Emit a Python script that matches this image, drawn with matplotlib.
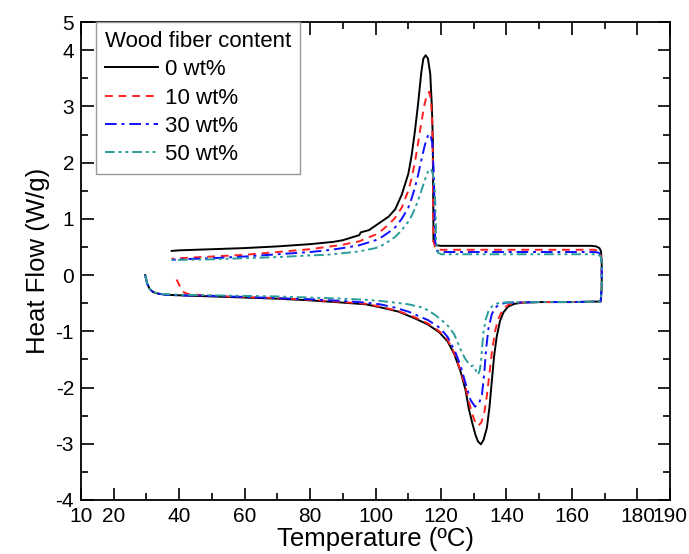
"""DSC heating/cooling curves for wood fiber composites."""
import matplotlib
matplotlib.use('Agg')
import matplotlib.pyplot as plt

plt.rcParams.update({
    'font.family': ['Liberation Sans', 'DejaVu Sans'],
    'font.size': 15,
})

# ---- data ----
# each trace: heating 30 -> 170 C (bottom), isothermal jump, cooling 170 -> 38 C (top)
t_0 = [29.6, 30.2, 31.0, 32.0, 33.5, 36, 40, 50, 60, 70, 80, 90, 97, 102, 107, 112, 116,
       119.5, 122, 124, 126, 127.5, 128.5, 129.5, 130.5, 131.3, 132.2, 133.0, 134.0, 134.8,
       135.5, 136.2, 137.0, 138.0, 139.1, 140.5, 142.5, 145, 150, 160, 168.8,
       169.1, 169.1, 168.9, 168.4, 167.4, 166, 150, 130, 120, 118.5, 117.7, 117.6, 117.5,
       117.2, 116.7, 116.0, 115.3, 114.6, 114.0, 113.0, 112.0, 111.0, 110.0, 108.0, 106.0,
       104.0, 102.0, 100.0, 98.0, 95.5, 95.0, 90, 87, 80, 70, 60, 50, 40, 37.7]
hf_0 = [0.0, -0.15, -0.25, -0.30, -0.33, -0.35, -0.36, -0.38, -0.40, -0.42, -0.45, -0.49,
        -0.52, -0.58, -0.65, -0.77, -0.88, -1.02, -1.18, -1.40, -1.72, -2.05, -2.38, -2.62,
        -2.84, -2.96, -3.01, -2.93, -2.72, -2.35, -1.90, -1.45, -1.10, -0.82, -0.66, -0.56,
        -0.51, -0.49, -0.48, -0.48, -0.47,
        -0.2, 0.2, 0.42, 0.48, 0.51, 0.52, 0.52, 0.52, 0.52, 0.53, 0.6, 1.5, 2.4,
        3.0, 3.58, 3.85, 3.91, 3.85, 3.62, 3.05, 2.55, 2.12, 1.80, 1.43, 1.17,
        1.04, 0.96, 0.88, 0.80, 0.76, 0.71, 0.62, 0.59, 0.55, 0.51, 0.48, 0.46, 0.44, 0.43]

t_10 = [39.2, 39.8, 40.5, 41.5, 43, 50, 60, 70, 80, 90, 97, 102, 107, 112, 116, 119.5, 122,
        124, 126, 127.5, 128.5, 129.5, 130.5, 131.4, 132.3, 133.2, 134.0, 134.8, 135.6,
        136.5, 137.5, 138.8, 140.5, 143, 150, 160, 168.8,
        169.1, 169.1, 168.8, 168.1, 166.8, 150, 125, 119.5, 118.3, 117.7, 117.6, 117.5, 117.3,
        116.9, 116.4, 115.8, 115.0, 114.0, 113.0, 112.0, 111.0, 110.0, 108.0, 106.0, 104.0,
        102.0, 100.0, 95, 90, 85, 80, 70, 60, 50, 40, 37.7]
hf_10 = [-0.08, -0.15, -0.24, -0.31, -0.34, -0.37, -0.39, -0.41, -0.44, -0.48, -0.51, -0.57,
         -0.64, -0.75, -0.86, -1.00, -1.15, -1.38, -1.70, -2.00, -2.25, -2.47, -2.62, -2.68,
         -2.62, -2.45, -2.15, -1.75, -1.35, -1.00, -0.78, -0.62, -0.53, -0.49, -0.48, -0.48,
         -0.47,
         -0.2, 0.2, 0.38, 0.43, 0.45, 0.45, 0.45, 0.45, 0.47, 0.6, 1.2, 2.0, 2.7,
         3.12, 3.26, 3.22, 3.05, 2.72, 2.35, 2.00, 1.72, 1.50, 1.20, 1.02, 0.90,
         0.80, 0.72, 0.60, 0.54, 0.50, 0.46, 0.41, 0.36, 0.33, 0.30, 0.29]

t_30 = [29.6, 30.2, 31.0, 32.0, 33.5, 36, 40, 50, 60, 70, 80, 90, 97, 101.4, 106, 110, 116,
        119.7, 122, 124.3, 126, 127.9, 129.0, 130.4, 131.5, 132.5, 133.2, 133.8, 134.5,
        135.5, 136.5, 138, 140, 150, 160, 168.8,
        169.1, 169.1, 168.8, 168.1, 166.8, 150, 125, 120, 118.8, 118.2, 118.1, 117.8, 117.3,
        116.7, 116.0, 115.0, 114.0, 113.0, 112.0, 111.0, 110.0, 108.0, 106.0, 104.0, 102.0,
        100.0, 95, 90, 85, 80, 70, 60, 50, 40, 37.7]
hf_30 = [0.0, -0.15, -0.25, -0.30, -0.33, -0.35, -0.36, -0.37, -0.39, -0.41, -0.43, -0.46,
         -0.49, -0.52, -0.58, -0.65, -0.80, -0.94, -1.10, -1.36, -1.62, -2.01, -2.22, -2.34,
         -2.30, -2.13, -1.75, -1.30, -0.95, -0.70, -0.58, -0.52, -0.49, -0.48, -0.48, -0.47,
         -0.2, 0.2, 0.36, 0.40, 0.41, 0.41, 0.41, 0.41, 0.43, 0.6, 1.0, 1.8, 2.35,
         2.51, 2.48, 2.30, 2.05, 1.78, 1.55, 1.36, 1.20, 1.00, 0.85, 0.76, 0.68,
         0.62, 0.53, 0.48, 0.44, 0.41, 0.37, 0.33, 0.30, 0.28, 0.27]

t_50 = [29.6, 30.2, 31.0, 32.0, 33.5, 36, 40, 50, 60, 70, 80, 90, 97, 101.4, 106, 110, 114.6,
        118, 121.8, 124, 125.8, 127.3, 128.4, 129.3, 129.9, 130.5, 131.3, 131.8, 132.2,
        132.6, 133.0, 133.7, 134.5, 135.5, 136.5, 138, 150, 160, 168.8,
        169.1, 169.1, 168.8, 168.1, 166.8, 150, 125, 120, 119.0, 118.5, 118.4, 118.1, 117.5,
        116.9, 116.0, 115.0, 114.0, 113.0, 112.0, 111.0, 110.0, 108.0, 106.0, 104.0, 102.0,
        100.0, 95, 90, 85, 80, 70, 60, 50, 40, 37.7]
hf_50 = [0.0, -0.15, -0.25, -0.30, -0.33, -0.34, -0.35, -0.36, -0.37, -0.38, -0.40, -0.42,
         -0.44, -0.46, -0.49, -0.52, -0.58, -0.70, -0.88, -1.05, -1.30, -1.48, -1.57, -1.62,
         -1.61, -1.68, -1.77, -1.70, -1.55, -1.25, -1.00, -0.78, -0.64, -0.56, -0.52, -0.49,
         -0.48, -0.48, -0.47,
         -0.2, 0.2, 0.33, 0.36, 0.37, 0.37, 0.37, 0.37, 0.40, 0.6, 1.0, 1.5, 1.80,
         1.89, 1.84, 1.68, 1.50, 1.33, 1.18, 1.05, 0.95, 0.80, 0.68, 0.60, 0.53,
         0.48, 0.42, 0.39, 0.36, 0.35, 0.32, 0.30, 0.28, 0.27, 0.27]

labels = ['0 wt%', '10 wt%', '30 wt%', '50 wt%']
xtick_vals = [10, 20, 40, 60, 80, 100, 120, 140, 160, 180, 190]
xtick_labels = ['10', '20', '40', '60', '80', '100', '120', '140', '160', '180', '190']
ytick_vals = [-4, -3, -2, -1, 0, 1, 2, 3, 4, 4.5]
ytick_labels = ['-4', '-3', '-2', '-1', '0', '1', '2', '3', '4', '5']

fig = plt.figure(figsize=(6.89, 5.54), dpi=100)
ax = fig.add_axes([0.1176, 0.0975, 0.855, 0.8627])

ax.plot(t_0, hf_0, color='black', lw=1.4, ls='-', label=labels[0])
ax.plot(t_10, hf_10, color='#FF2020', lw=1.4, ls=(0, (4, 3)), label=labels[1])
ax.plot(t_30, hf_30, color='#1010FF', lw=1.4, ls=(0, (6, 2.5, 1.5, 2.5)), label=labels[2])
ax.plot(t_50, hf_50, color='#2A9D9A', lw=1.4, ls=(0, (5, 2, 1.5, 2, 1.5, 2)), label=labels[3])

ax.set_xlim(10, 190)
ax.set_ylim(-4, 4.5)
ax.set_xticks(xtick_vals)
ax.set_xticklabels(xtick_labels)
ax.set_xticks(range(30, 180, 20), minor=True)
ax.set_yticks(ytick_vals)
ax.set_yticklabels(ytick_labels)
ax.set_yticks([-3.5, -2.5, -1.5, -0.5, 0.5, 1.5, 2.5, 3.5], minor=True)
ax.tick_params(which='both', direction='in', top=True, right=True, labelsize=15, width=1.2)
ax.tick_params(which='major', length=9, pad=5)
ax.tick_params(which='minor', length=5)
for s in ax.spines.values():
    s.set_linewidth(1.3)

ax.set_xlabel('Temperature (ºC)', fontsize=18.5, labelpad=1)
ax.set_ylabel('Heat Flow (W/g)', fontsize=18.5, labelpad=4)

leg = ax.legend(title='Wood fiber content', loc='upper left', bbox_to_anchor=(0.025, 1.0),
                borderaxespad=0, fontsize=16, title_fontsize=16, fancybox=False,
                edgecolor='#999999', framealpha=1, handlelength=2.4, handletextpad=0.3,
                labelspacing=0.33, borderpad=0.4, alignment='left')
leg.get_frame().set_linewidth(1.0)

fig.savefig('out.png', dpi=100)
